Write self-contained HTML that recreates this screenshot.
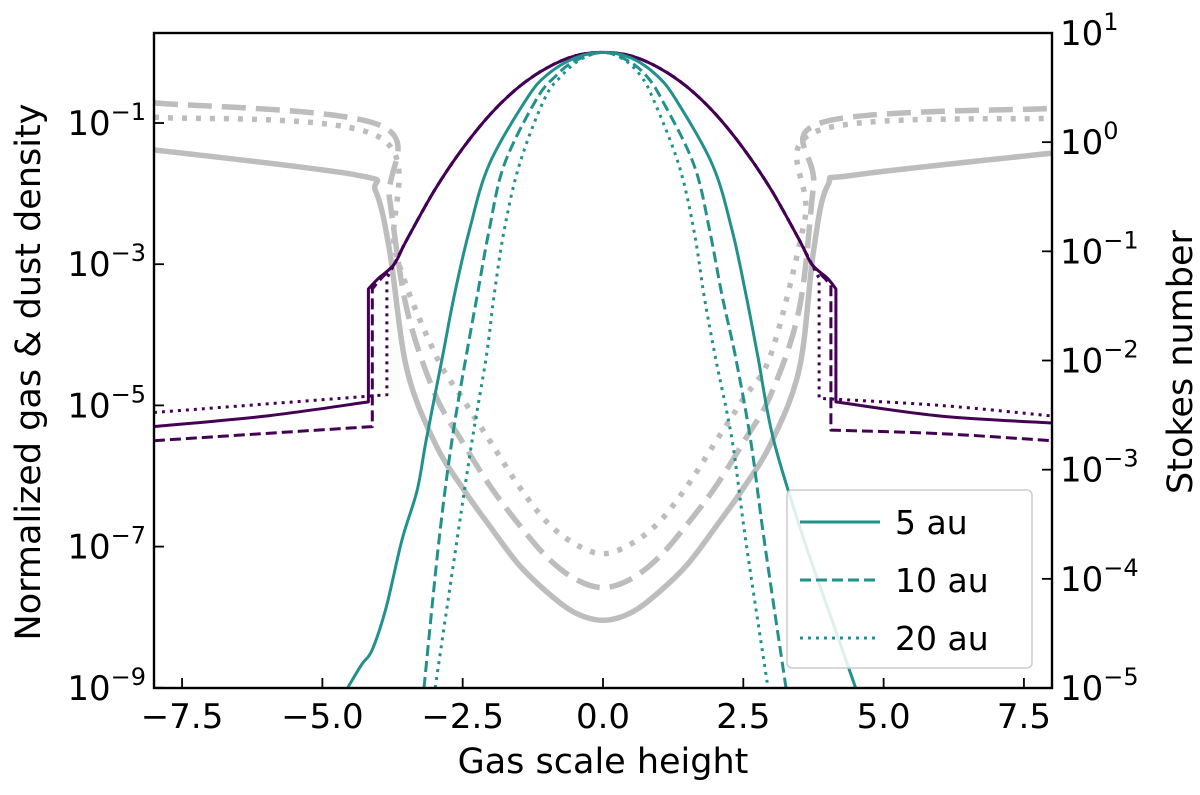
<!DOCTYPE html>
<html><head><meta charset="utf-8"><style>
body{margin:0;background:#fff;}
svg{font-family:"DejaVu Sans","Liberation Sans",sans-serif;}
</style></head><body>
<svg id="c" width="1200" height="790" xmlns="http://www.w3.org/2000/svg"></svg>
<script>
// data
const xTicks=[-7.5,-5.0,-2.5,0.0,2.5,5.0,7.5];
const yLeftTicks=[-9,-7,-5,-3,-1];
const yRightTicks=[-5,-4,-3,-2,-1,0,1];
// gas density (log10)
const gasZ5=[-8,-6,-4.18,-4.18,-4.0,-3.72,-3.5,-3,-2.5,-2,-1.5,-1,-0.5,0,0.5,1,1.5,2,2.5,3,3.5,3.72,4.0,4.15,4.15,6,8];
const gasV5=[-5.3,-5.15,-4.95,-3.35,-3.2,-3,-2.66,-1.95,-1.36,-0.87,-0.49,-0.22,-0.05,0,-0.05,-0.22,-0.49,-0.87,-1.36,-1.95,-2.66,-3,-3.2,-3.35,-4.95,-5.15,-5.25];
const gasZ10=[-8,-4.11,-4.11,-3.95,-3.72,-3.5,-3,-2.5,-2,-1.5,-1,-0.5,0,0.5,1,1.5,2,2.5,3,3.5,3.72,3.95,4.06,4.06,6,8];
const gasV10=[-5.5,-5.3,-3.35,-3.2,-3,-2.66,-1.95,-1.36,-0.87,-0.49,-0.22,-0.05,0,-0.05,-0.22,-0.49,-0.87,-1.36,-1.95,-2.66,-3,-3.2,-3.3,-5.35,-5.4,-5.5];
const gasZ20=[-8,-3.85,-3.85,-3.72,-3.5,-3,-2.5,-2,-1.5,-1,-0.5,0,0.5,1,1.5,2,2.5,3,3.5,3.72,3.85,3.85,6,8];
const gasV20=[-5.1,-4.85,-3.2,-3,-2.66,-1.95,-1.36,-0.87,-0.49,-0.22,-0.05,0,-0.05,-0.22,-0.49,-0.87,-1.36,-1.95,-2.66,-3,-3.2,-4.9,-5.0,-5.15];
// dust density
const dustZ5=[-4.55,-4.3,-4.11,-3.86,-3.58,-3.31,-3.15,-2.86,-2.65,-2.38,-2.03,-1.37,-1.0,-0.5,0,0.5,0.95,1.3,1.95,2.3,2.55,2.76,3.04,3.58,4.15,4.5];
const dustV5=[-9,-8.67,-8.46,-7.85,-6.9,-6.2,-5.49,-4.31,-3.44,-2.52,-1.59,-0.67,-0.32,-0.08,0,-0.08,-0.32,-0.67,-1.59,-2.52,-3.44,-4.31,-5.49,-6.9,-8.2,-9];
const dustZ10=[-3.19,-2.92,-2.69,-2.44,-2.24,-2.03,-1.76,-1.19,-0.85,-0.5,0,0.45,0.78,1.05,1.62,1.9,2.12,2.36,2.63,2.87,3.26];
const dustV10=[-9,-6.9,-5.49,-4.31,-3.44,-2.52,-1.59,-0.67,-0.34,-0.12,0,-0.12,-0.34,-0.67,-1.59,-2.52,-3.44,-4.31,-5.49,-6.9,-9];
const dustZ20=[-2.99,-2.6,-2.33,-2.08,-1.94,-1.76,-1.49,-1.05,-0.75,-0.4,0,0.37,0.68,0.9,1.35,1.62,1.8,2.0,2.3,2.54,2.94];
const dustV20=[-9,-6.9,-5.49,-4.31,-3.44,-2.52,-1.59,-0.67,-0.34,-0.1,0,-0.1,-0.34,-0.67,-1.59,-2.52,-3.44,-4.31,-5.49,-6.9,-9];
// Stokes number (log10, right axis)
const stZ5=[-8,-4.4,-4.05,-3.8,-3.5,-3,-2.5,-2,-1.5,-1,-0.5,0,0.5,1,1.5,2,2.5,3,3.5,3.75,4.0,4.5,8];
const stV5=[-0.07,-0.3,-0.45,-1.0,-2.07,-2.75,-3.17,-3.53,-3.87,-4.12,-4.31,-4.38,-4.31,-4.12,-3.87,-3.53,-3.17,-2.75,-2.07,-1.0,-0.4,-0.3,-0.1];
const stZ10=[-8,-4.0,-3.8,-3.5,-3,-2.5,-2,-1.5,-1,-0.5,0,0.5,1,1.5,2,2.5,3,3.5,3.75,3.9,8];
const stV10=[0.36,0.16,-0.53,-1.52,-2.3,-2.75,-3.16,-3.5,-3.8,-4.0,-4.08,-4.0,-3.8,-3.5,-3.16,-2.75,-2.3,-1.52,-0.4,0.18,0.31];
const stZ20=[-8,-4.0,-3.7,-3,-2.5,-2,-1.5,-1,-0.5,0,0.5,1,1.5,2,2.5,3,3.6,3.8,8];
const stV20=[0.23,0.05,-1.0,-1.93,-2.35,-2.75,-3.15,-3.48,-3.68,-3.77,-3.68,-3.48,-3.15,-2.75,-2.35,-1.93,-0.7,0.1,0.22];

const L=154,R=1052,T=33,B=688;
const X=z=>L+(z+8)/16*(R-L);
const YL=v=>123+(-1-v)*70.6;
const YR=v=>33+(1-v)*109.17;
const svg=document.getElementById('c');
const NS='http://www.w3.org/2000/svg';
function mk(t,a,p){const e=document.createElementNS(NS,t);for(const k in a)e.setAttribute(k,a[k]);(p||svg).appendChild(e);return e;}
const defs=mk('defs',{});const cp=mk('clipPath',{id:'cp'},defs);mk('rect',{x:L,y:T,width:R-L,height:B-T},cp);
const g=mk('g',{'clip-path':'url(#cp)'});
function smooth(pts){
  let d='';
  for(let i=0;i<pts.length-1;i++){
    const p0=pts[Math.max(i-1,0)],p1=pts[i],p2=pts[i+1],p3=pts[Math.min(i+2,pts.length-1)];
    const c1=[p1[0]+(p2[0]-p0[0])/6,p1[1]+(p2[1]-p0[1])/6];
    const c2=[p2[0]-(p3[0]-p1[0])/6,p2[1]-(p3[1]-p1[1])/6];
    d+='C'+c1[0].toFixed(1)+','+c1[1].toFixed(1)+' '+c2[0].toFixed(1)+','+c2[1].toFixed(1)+' '+p2[0].toFixed(1)+','+p2[1].toFixed(1);
  }
  return d;
}
function line(zs,vs,Y,color,w,dash,name){
  const pieces=[];let cur=[];
  zs.forEach((z,i)=>{if(i&&z===zs[i-1]){pieces.push(cur);cur=[];}cur.push([X(z),Y(vs[i])]);});
  pieces.push(cur);
  let d='M'+pieces[0][0][0].toFixed(1)+','+pieces[0][0][1].toFixed(1);
  pieces.forEach((pc,k)=>{if(k)d+='L'+pc[0][0].toFixed(1)+','+pc[0][1].toFixed(1);d+=smooth(pc);});
  const p=mk('path',{d:d,fill:'none',stroke:color,'stroke-width':w,'stroke-dasharray':dash||'none','stroke-linejoin':'round'},g);
  
  
}
const GR='#bdbdbd',PU='#440154',TE='#21918c';
line(stZ5,stV5,YR,GR,5.5,'','stokes-5au');
line(stZ10,stV10,YR,GR,5.5,'24,10','stokes-10au');
line(stZ20,stV20,YR,GR,5.5,'5,9','stokes-20au');
line(gasZ5,gasV5,YL,PU,3,'','gas-5au');
line(gasZ10,gasV10,YL,PU,3,'11,5','gas-10au');
line(gasZ20,gasV20,YL,PU,3,'3,5','gas-20au');
line(dustZ5,dustV5,YL,TE,3,'','dust-5au');
line(dustZ10,dustV10,YL,TE,3,'11,5','dust-10au');
line(dustZ20,dustV20,YL,TE,3,'3,5','dust-20au');
mk('rect',{x:L,y:T,width:R-L,height:B-T,fill:'none',stroke:'#000','stroke-width':2.4,});
xTicks.forEach(t=>{const x=X(t);mk('line',{x1:x,x2:x,y1:B,y2:B-10,stroke:'#000','stroke-width':1.8});
 const e=mk('text',{x:x,y:B+40,'text-anchor':'middle','font-size':34});e.textContent=(t<0?'\u2212':'')+Math.abs(t).toFixed(1);
 });
yLeftTicks.forEach(t=>{const y=YL(t);mk('line',{x1:L,x2:L+10,y1:y,y2:y,stroke:'#000','stroke-width':1.8});
 const e=mk('text',{x:L-8,y:y+12,'text-anchor':'end','font-size':34});e.innerHTML='10<tspan dy="-15" font-size="24">\u2212'+Math.abs(t)+'</tspan>';
 });
yRightTicks.forEach(t=>{const y=YR(t);mk('line',{x1:R,x2:R-10,y1:y,y2:y,stroke:'#000','stroke-width':1.8});
 const e=mk('text',{x:R+8,y:y+12,'font-size':34});e.innerHTML='10<tspan dy="-15" font-size="24">'+(t<0?'\u2212':'')+Math.abs(t)+'</tspan>';
 });
let e=mk('text',{x:603,y:773,'text-anchor':'middle','font-size':35});e.textContent='Gas scale height';

e=mk('text',{x:0,y:0,'text-anchor':'middle','font-size':35,transform:'translate(40,372) rotate(-90)'});e.textContent='Normalized gas & dust density';

e=mk('text',{x:0,y:0,'text-anchor':'middle','font-size':35,transform:'translate(1192,362) rotate(-90)'});e.textContent='Stokes number';

const lg=mk('g',{});
mk('rect',{x:787,y:490,width:245,height:178,rx:5,fill:'#fff','fill-opacity':0.85,stroke:'#ccc','stroke-width':1.5},lg);
[['5 au',''],['10 au','11,5'],['20 au','3,5']].forEach((it,i)=>{const y=522+i*58;
 mk('line',{x1:800,x2:880,y1:y,y2:y,stroke:TE,'stroke-width':3,'stroke-dasharray':it[1]||'none'},lg);
 const t=mk('text',{x:895,y:y+12,'font-size':33},lg);t.textContent=it[0];
 });
</script>
</body></html>
